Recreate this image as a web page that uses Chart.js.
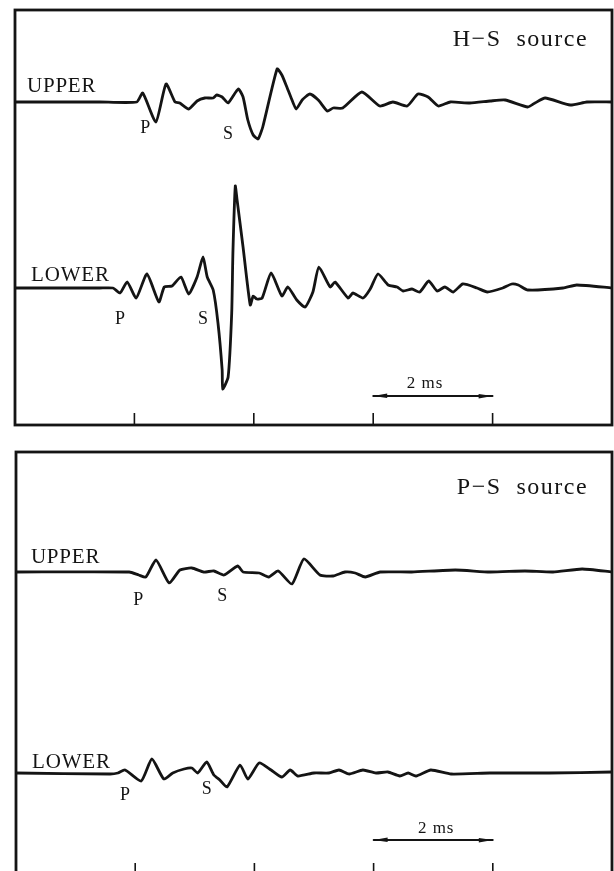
<!DOCTYPE html>
<html>
<head>
<meta charset="utf-8">
<script src="https://cdn.jsdelivr.net/npm/chart.js@4.4.0/dist/chart.umd.min.js"></script>
<style>
  html, body { margin: 0; padding: 0; background: #fff; overflow: hidden; }
  #wrap { position: relative; width: 614px; height: 871px; }
  canvas { position: absolute; left: 0; }
</style>
</head>
<body>
<div id="wrap">
  <canvas id="hs" width="614" height="440" style="top:0"></canvas>
  <canvas id="ps" width="614" height="440" style="top:440px"></canvas>
</div>
<script>
// time axis (ms), tick marks every 2 ms
const timeTicks = [2, 4, 6, 8];
const scaleBarT = [6, 8]; // "2 ms" bar

// H-S source, upper receiver (time ms / amplitude, arbitrary units)
const hsUpperT = [0, 1.42, 2.04, 2.14, 2.36, 2.53, 2.68, 2.76, 2.91, 3.05, 3.18, 3.32, 3.38, 3.47, 3.57, 3.74, 3.82, 3.90, 3.99, 4.07, 4.15, 4.39, 4.47, 4.56, 4.62, 4.71, 4.81, 4.94, 5.08, 5.23, 5.33, 5.49, 5.81, 6.11, 6.33, 6.57, 6.75, 6.92, 7.09, 7.29, 7.62, 7.96, 8.21, 8.59, 8.71, 8.88, 9.30, 9.58, 10.0];
const hsUpperA = [0, 0, 0, 0.9, -2.0, 1.8, 0, -0.1, -0.7, 0.1, 0.4, 0.4, 0.7, 0.5, -0.1, 1.3, 0.5, -1.8, -3.3, -3.7, -2.5, 3.3, 2.7, 1.4, 0.5, -0.7, 0.2, 0.8, 0.2, -0.9, -0.6, -0.6, 1.0, -0.4, 0, -0.4, 0.8, 0.5, -0.4, 0, -0.1, 0.1, 0.2, -0.5, -0.1, 0.4, -0.3, 0, 0];

// H-S source, lower receiver
const hsLowerT = [0, 1.42, 1.64, 1.76, 1.88, 2.03, 2.21, 2.41, 2.50, 2.63, 2.78, 2.91, 3.05, 3.15, 3.22, 3.32, 3.40, 3.47, 3.48, 3.57, 3.63, 3.65, 3.69, 3.72, 3.82, 3.94, 3.99, 4.05, 4.14, 4.29, 4.47, 4.57, 4.72, 4.86, 4.99, 5.09, 5.28, 5.36, 5.58, 5.66, 5.83, 5.95, 6.08, 6.25, 6.40, 6.50, 6.65, 6.78, 6.93, 7.07, 7.20, 7.34, 7.50, 7.74, 7.91, 8.17, 8.32, 8.43, 8.59, 9.18, 9.41, 10.0];
const hsLowerA = [0, 0, 0, -0.5, 0.6, -1.0, 1.4, -1.4, 0.1, 0.2, 1.1, -0.6, 1.1, 3.1, 1.1, -0.2, -3.5, -8.2, -10.1, -8.9, -2.5, 3.5, 10.2, 8.8, 4.1, -1.7, -0.8, -1.1, -1.0, 1.5, -0.8, 0.1, -1.2, -1.9, -0.4, 2.1, 0.1, 0.6, -1.0, -0.5, -1.0, -0.1, 1.4, 0.3, 0.1, -0.3, -0.1, -0.4, 0.7, -0.3, 0.1, -0.4, 0.4, 0, -0.4, 0, 0.4, 0.3, -0.2, 0, 0.3, 0];

// P-S source, upper receiver
const psUpperT = [0, 1.90, 2.06, 2.18, 2.35, 2.57, 2.75, 2.95, 3.15, 3.32, 3.49, 3.72, 3.81, 4.08, 4.24, 4.40, 4.63, 4.83, 5.10, 5.32, 5.52, 5.69, 5.86, 6.11, 6.64, 7.37, 7.95, 8.54, 9.01, 9.50, 10.0];
const psUpperA = [0, 0, -0.3, -0.5, 1.2, -1.1, 0.2, 0.4, 0, 0.1, -0.3, 0.6, 0, -0.1, -0.5, 0.1, -1.2, 1.3, -0.3, -0.4, 0, -0.1, -0.5, 0, 0, 0.2, 0, 0.1, 0, 0.3, 0];

// P-S source, lower receiver
const psLowerT = [0, 1.58, 1.71, 1.83, 2.10, 2.28, 2.48, 2.63, 2.82, 2.95, 3.05, 3.20, 3.32, 3.42, 3.54, 3.76, 3.89, 4.08, 4.28, 4.46, 4.60, 4.73, 5.00, 5.25, 5.42, 5.59, 5.82, 6.04, 6.24, 6.44, 6.58, 6.71, 6.96, 7.30, 7.95, 8.94, 10.0];
const psLowerA = [0, -0.1, 0, 0.3, -0.8, 1.4, -0.6, 0, 0.4, 0.5, 0, 1.1, -0.2, -0.7, -1.4, 0.8, -0.6, 1.0, 0.3, -0.4, 0.3, -0.3, 0, 0, 0.3, -0.1, 0.3, 0, 0.1, -0.3, 0, -0.3, 0.3, -0.1, 0, 0, 0.1];

const INK = '#141414';
const SERIF = '"Liberation Serif", "DejaVu Serif", serif';

function trace(t, a, offset) {
    return t.map((v, i) => ({ x: v, y: a[i] + offset }));
}

// frame, tick marks, scale-bar arrowheads and text
const panelDecor = {
    id: 'panelDecor',
    afterDatasetsDraw(chart, args, opts) {
        const { ctx, chartArea: area, scales: { x, y } } = chart;
        ctx.save();
        ctx.strokeStyle = INK;
        ctx.fillStyle = INK;

        ctx.lineWidth = 2.8;
        ctx.strokeRect(area.left, area.top, area.right - area.left, area.bottom - area.top);

        ctx.lineWidth = 1.6;
        timeTicks.forEach(t => {
            const px = x.getPixelForValue(t);
            ctx.beginPath();
            ctx.moveTo(px, area.bottom);
            ctx.lineTo(px, area.bottom - 12);
            ctx.stroke();
        });

        const by = y.getPixelForValue(opts.barY);
        const x0 = x.getPixelForValue(scaleBarT[0]);
        const x1 = x.getPixelForValue(scaleBarT[1]);
        ctx.beginPath();
        ctx.moveTo(x0, by); ctx.lineTo(x0 + 14, by - 2.5); ctx.lineTo(x0 + 14, by + 2); ctx.closePath();
        ctx.fill();
        ctx.beginPath();
        ctx.moveTo(x1, by); ctx.lineTo(x1 - 14, by - 2); ctx.lineTo(x1 - 14, by + 2.5); ctx.closePath();
        ctx.fill();

        ctx.textBaseline = 'middle';
        opts.labels.forEach(l => {
            ctx.font = l.size + 'px ' + SERIF;
            ctx.letterSpacing = (l.spacing || 0) + 'px';
            ctx.textAlign = l.align || 'center';
            ctx.fillText(l.text, x.getPixelForValue(l.t), y.getPixelForValue(l.v));
        });
        ctx.restore();
    }
};

function makePanel(id, cfg) {
    new Chart(document.getElementById(id), {
        type: 'line',
        data: {
            datasets: [
                { data: cfg.upper, borderWidth: 2.8 },
                { data: cfg.lower, borderWidth: 2.8 },
                { data: scaleBarT.map(t => ({ x: t, y: cfg.barY })), borderWidth: 1.8, tension: 0 }
            ]
        },
        options: {
            responsive: false,
            animation: false,
            events: [],
            layout: { padding: cfg.padding },
            elements: {
                line: { borderColor: INK, tension: 0.18, fill: false, borderCapStyle: 'round', borderJoinStyle: 'round' },
                point: { radius: 0 }
            },
            scales: {
                x: { type: 'linear', min: 0, max: 10, display: false },
                y: { type: 'linear', min: cfg.yMin, max: cfg.yMax, display: false }
            },
            plugins: {
                legend: { display: false },
                tooltip: { enabled: false },
                panelDecor: { barY: cfg.barY, labels: cfg.labels }
            }
        },
        plugins: [panelDecor]
    });
}

makePanel('hs', {
    upper: trace(hsUpperT, hsUpperA, 18.6),
    lower: trace(hsLowerT, hsLowerA, 0),
    yMin: -13.7, yMax: 27.8,
    padding: { left: 15, right: 2, top: 10, bottom: 15 },
    barY: -10.8,
    labels: [
        { text: 'H\u2212S  source', t: 9.6, v: 24.8, size: 24, align: 'right', spacing: 1.5 },
        { text: 'UPPER', t: 0.2, v: 20.2, size: 21, align: 'left', spacing: 0.8 },
        { text: 'LOWER', t: 0.27, v: 1.3, size: 21, align: 'left', spacing: 0.8 },
        { text: 'P', t: 2.18, v: 16.0, size: 18 },
        { text: 'S', t: 3.57, v: 15.4, size: 18 },
        { text: 'P', t: 1.76, v: -3.1, size: 18 },
        { text: 'S', t: 3.15, v: -3.1, size: 18 },
        { text: '2 ms', t: 6.87, v: -9.6, size: 17, spacing: 1 }
    ]
});

makePanel('ps', {
    upper: trace(psUpperT, psUpperA, 20.1),
    lower: trace(psLowerT, psLowerA, 0),
    yMin: -10.2, yMax: 32.1,
    padding: { left: 16, right: 2, top: 12, bottom: 5 },
    barY: -6.7,
    labels: [
        { text: 'P\u2212S  source', t: 9.6, v: 28.5, size: 24, align: 'right', spacing: 1.5 },
        { text: 'UPPER', t: 0.25, v: 21.6, size: 21, align: 'left', spacing: 0.8 },
        { text: 'LOWER', t: 0.27, v: 1.1, size: 21, align: 'left', spacing: 0.8 },
        { text: 'P', t: 2.05, v: 17.3, size: 18 },
        { text: 'S', t: 3.46, v: 17.7, size: 18 },
        { text: 'P', t: 1.83, v: -2.2, size: 18 },
        { text: 'S', t: 3.20, v: -1.6, size: 18 },
        { text: '2 ms', t: 7.05, v: -5.6, size: 17, spacing: 1 }
    ]
});
</script>
</body>
</html>
